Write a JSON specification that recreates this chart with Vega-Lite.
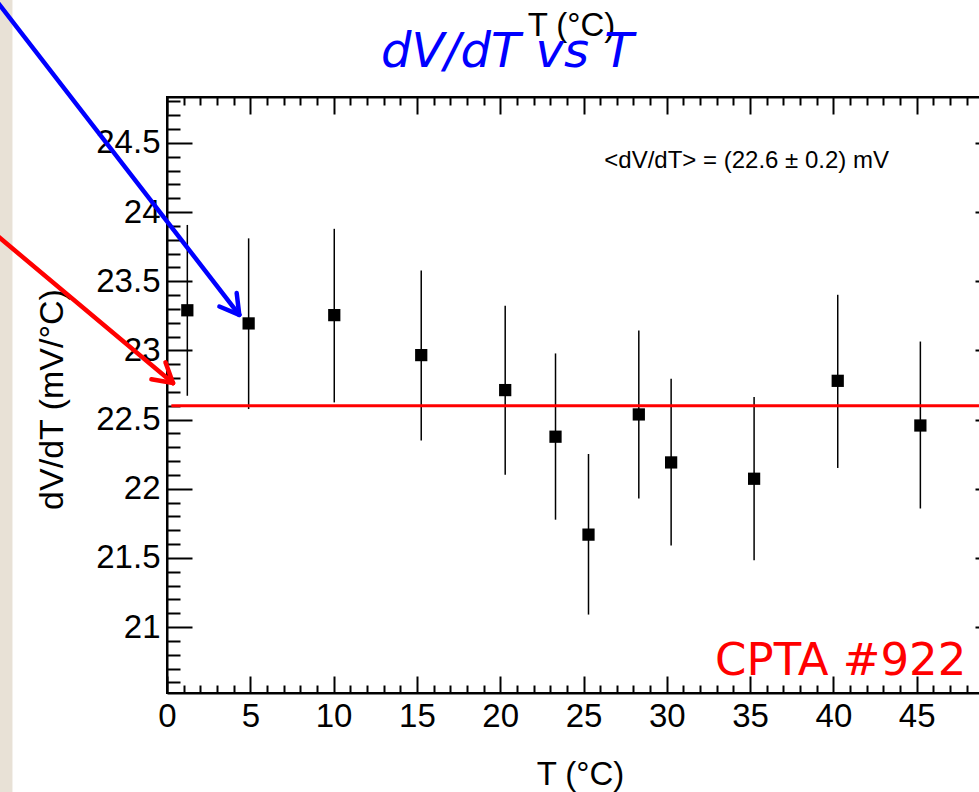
{
  "$schema": "https://vega.github.io/schema/vega-lite/v6.json",
  "width": 833,
  "height": 596,
  "autosize": {"type": "none"},
  "padding": {"left": 167, "top": 97, "right": -21, "bottom": 99},
  "background": "white",
  "view": {"stroke": "black", "strokeWidth": 2},
  "title": {
    "text": "dV/dT vs T",
    "anchor": "start",
    "frame": "group",
    "dx": 214,
    "dy": 138,
    "offset": 0,
    "font": "DejaVu Sans",
    "fontStyle": "italic",
    "fontWeight": "normal",
    "fontSize": 48,
    "color": "#0000ff",
    "baseline": "alphabetic"
  },
  "datasets": {
    "points": [
      {"T": 1.22, "V": 23.29, "lo": 22.672, "hi": 23.907},
      {"T": 4.9, "V": 23.195, "lo": 22.576, "hi": 23.81},
      {"T": 10.04, "V": 23.255, "lo": 22.624, "hi": 23.879},
      {"T": 15.26, "V": 22.966, "lo": 22.349, "hi": 23.577},
      {"T": 20.3, "V": 22.713, "lo": 22.101, "hi": 23.322},
      {"T": 23.32, "V": 22.376, "lo": 21.776, "hi": 22.978},
      {"T": 25.3, "V": 21.668, "lo": 21.09, "hi": 22.251},
      {"T": 28.32, "V": 22.537, "lo": 21.93, "hi": 23.144},
      {"T": 30.26, "V": 22.19, "lo": 21.59, "hi": 22.795},
      {"T": 35.24, "V": 22.072, "lo": 21.482, "hi": 22.663},
      {"T": 40.26, "V": 22.78, "lo": 22.15, "hi": 23.402},
      {"T": 45.22, "V": 22.457, "lo": 21.857, "hi": 23.064}
    ],
    "fit": [{"T0": 0.26, "T1": 50, "V": 22.6}],
    "arrows": [
      {"arrow": "to_point", "x": -11.24, "y": 25.6835, "x2": 4.338, "y2": 23.2572},
      {"arrow": "to_point", "x": 4.182, "y": 23.4147, "x2": 4.338, "y2": 23.2572},
      {"arrow": "to_point", "x": 3.144, "y": 23.3172, "x2": 4.338, "y2": 23.2572},
      {"arrow": "to_fit", "x": -11.238, "y": 23.935, "x2": 0.36, "y2": 22.7637},
      {"arrow": "to_fit", "x": -0.936, "y": 22.7912, "x2": 0.36, "y2": 22.7637},
      {"arrow": "to_fit", "x": -0.09, "y": 22.9133, "x2": 0.36, "y2": 22.7637}
    ],
    "mean": [{"text": "<dV/dT> = (22.6 ± 0.2) mV", "T": 26.25, "V": 24.319}],
    "tag": [{"text": "CPTA #922", "T": 47.98, "V": 20.656}],
    "strip": [{"x0": -12, "x1": -9.276, "y0": 25.7, "y1": 19.7}]
  },
  "resolve": {"axis": {"x": "independent", "y": "independent"}},
  "layer": [
    {
      "data": {"name": "strip"},
      "mark": {"type": "rect", "color": "#e8e1d6", "clip": false},
      "encoding": {
        "x": {"field": "x0", "type": "quantitative", "scale": {"domain": [0, 50], "zero": false, "nice": false}, "axis": null},
        "x2": {"field": "x1"},
        "y": {"field": "y0", "type": "quantitative", "scale": {"domain": [20.523, 24.832], "zero": false, "nice": false}, "axis": null},
        "y2": {"field": "y1"}
      }
    },
    {
      "data": {"name": "points"},
      "mark": {"type": "rule", "color": "black", "strokeWidth": 1.5},
      "encoding": {
        "x": {
          "field": "T", "type": "quantitative",
          "scale": {"domain": [0, 50], "zero": false, "nice": false},
          "axis": {
            "orient": "bottom",
            "values": [0,1,2,3,4,5,6,7,8,9,10,11,12,13,14,15,16,17,18,19,20,21,22,23,24,25,26,27,28,29,30,31,32,33,34,35,36,37,38,39,40,41,42,43,44,45,46,47,48,49,50],
            "grid": false,
            "tickSize": {"condition": {"test": "datum.value % 5 === 0", "value": -17}, "value": -8},
            "tickColor": "black", "tickWidth": 2,
            "domainColor": "black", "domainWidth": 2,
            "labelExpr": "(datum.value % 5 === 0 && datum.value < 50) ? format(datum.value, '') : ''",
            "labelFont": "Liberation Sans", "labelFontSize": 33, "labelColor": "black",
            "labelPadding": 24, "labelOverlap": false, "labelFlush": false,
            "title": "T (°C)", "titleFont": "Liberation Sans", "titleFontSize": 33, "titleFontWeight": "normal", "titleColor": "black",
            "titleX": 413, "titleY": 91, "titleBaseline": "alphabetic", "titleAlign": "center"
          }
        },
        "y": {
          "field": "lo", "type": "quantitative",
          "scale": {"domain": [20.523, 24.832], "zero": false, "nice": false},
          "axis": {
            "orient": "left",
            "values": [20.6,20.7,20.8,20.9,21,21.1,21.2,21.3,21.4,21.5,21.6,21.7,21.8,21.9,22,22.1,22.2,22.3,22.4,22.5,22.6,22.7,22.8,22.9,23,23.1,23.2,23.3,23.4,23.5,23.6,23.7,23.8,23.9,24,24.1,24.2,24.3,24.4,24.5,24.6,24.7,24.8],
            "grid": false,
            "tickSize": {"condition": {"test": "abs(datum.value * 2 - round(datum.value * 2)) < 0.001", "value": -25}, "value": -13},
            "tickColor": "black", "tickWidth": 2,
            "domainColor": "black", "domainWidth": 2,
            "labelExpr": "abs(datum.value * 2 - round(datum.value * 2)) < 0.001 ? format(datum.value, '') : ''",
            "labelFont": "Liberation Sans", "labelFontSize": 33, "labelColor": "black",
            "labelPadding": 32, "labelOverlap": false, "labelFlush": false,
            "title": "dV/dT (mV/°C)", "titleFont": "Liberation Sans", "titleFontSize": 34, "titleFontWeight": "normal", "titleColor": "black",
            "titleX": -105, "titleY": 302, "titleAngle": -90, "titleBaseline": "alphabetic", "titleAlign": "center"
          }
        },
        "y2": {"field": "hi"}
      }
    },
    {
      "data": {"name": "fit"},
      "mark": {"type": "rule", "color": "#ff0000", "strokeWidth": 3},
      "encoding": {
        "x": {"field": "T0", "type": "quantitative", "scale": {"domain": [0, 50], "zero": false, "nice": false}, "axis": null},
        "x2": {"field": "T1"},
        "y": {"field": "V", "type": "quantitative", "scale": {"domain": [20.523, 24.832], "zero": false, "nice": false}, "axis": null}
      }
    },
    {
      "data": {"name": "points"},
      "mark": {"type": "point", "shape": "square", "filled": true, "color": "black", "opacity": 1, "size": 150},
      "encoding": {
        "x": {
          "field": "T", "type": "quantitative",
          "scale": {"domain": [0, 50], "zero": false, "nice": false},
          "axis": {
            "orient": "top",
            "values": [0,1,2,3,4,5,6,7,8,9,10,11,12,13,14,15,16,17,18,19,20,21,22,23,24,25,26,27,28,29,30,31,32,33,34,35,36,37,38,39,40,41,42,43,44,45,46,47,48,49,50],
            "grid": false, "labels": false,
            "tickSize": {"condition": {"test": "datum.value % 5 === 0", "value": -17}, "value": -8},
            "tickColor": "black", "tickWidth": 2,
            "domainColor": "black", "domainWidth": 2,
            "title": "T (°C)", "titleFont": "Liberation Sans", "titleFontSize": 33, "titleFontWeight": "normal", "titleColor": "black",
            "titleX": 404, "titleY": -62, "titleBaseline": "alphabetic", "titleAlign": "center"
          }
        },
        "y": {
          "field": "V", "type": "quantitative",
          "scale": {"domain": [20.523, 24.832], "zero": false, "nice": false},
          "axis": {
            "orient": "right",
            "values": [20.6,20.7,20.8,20.9,21,21.1,21.2,21.3,21.4,21.5,21.6,21.7,21.8,21.9,22,22.1,22.2,22.3,22.4,22.5,22.6,22.7,22.8,22.9,23,23.1,23.2,23.3,23.4,23.5,23.6,23.7,23.8,23.9,24,24.1,24.2,24.3,24.4,24.5,24.6,24.7,24.8],
            "grid": false, "labels": false, "title": null,
            "tickSize": {"condition": {"test": "abs(datum.value * 2 - round(datum.value * 2)) < 0.001", "value": -25}, "value": -13},
            "tickColor": "black", "tickWidth": 2,
            "domainColor": "black", "domainWidth": 2
          }
        }
      }
    },
    {
      "data": {"name": "mean"},
      "mark": {"type": "text", "align": "left", "baseline": "alphabetic", "font": "Liberation Sans", "fontSize": 24, "color": "black"},
      "encoding": {
        "x": {"field": "T", "type": "quantitative", "scale": {"domain": [0, 50], "zero": false, "nice": false}, "axis": null},
        "y": {"field": "V", "type": "quantitative", "scale": {"domain": [20.523, 24.832], "zero": false, "nice": false}, "axis": null},
        "text": {"field": "text"}
      }
    },
    {
      "data": {"name": "tag"},
      "mark": {"type": "text", "align": "right", "baseline": "alphabetic", "font": "DejaVu Sans", "fontSize": 45, "color": "#ff0000"},
      "encoding": {
        "x": {"field": "T", "type": "quantitative", "scale": {"domain": [0, 50], "zero": false, "nice": false}, "axis": null},
        "y": {"field": "V", "type": "quantitative", "scale": {"domain": [20.523, 24.832], "zero": false, "nice": false}, "axis": null},
        "text": {"field": "text"}
      }
    },
    {
      "data": {"name": "arrows"},
      "mark": {"type": "rule", "strokeWidth": 4.5, "strokeCap": "round", "clip": false},
      "encoding": {
        "x": {"field": "x", "type": "quantitative", "scale": {"domain": [0, 50], "zero": false, "nice": false}, "axis": null},
        "x2": {"field": "x2"},
        "y": {"field": "y", "type": "quantitative", "scale": {"domain": [20.523, 24.832], "zero": false, "nice": false}, "axis": null},
        "y2": {"field": "y2"},
        "color": {"field": "arrow", "type": "nominal", "scale": {"domain": ["to_point", "to_fit"], "range": ["#0000ff", "#ff0000"]}, "legend": null}
      }
    }
  ]
}
